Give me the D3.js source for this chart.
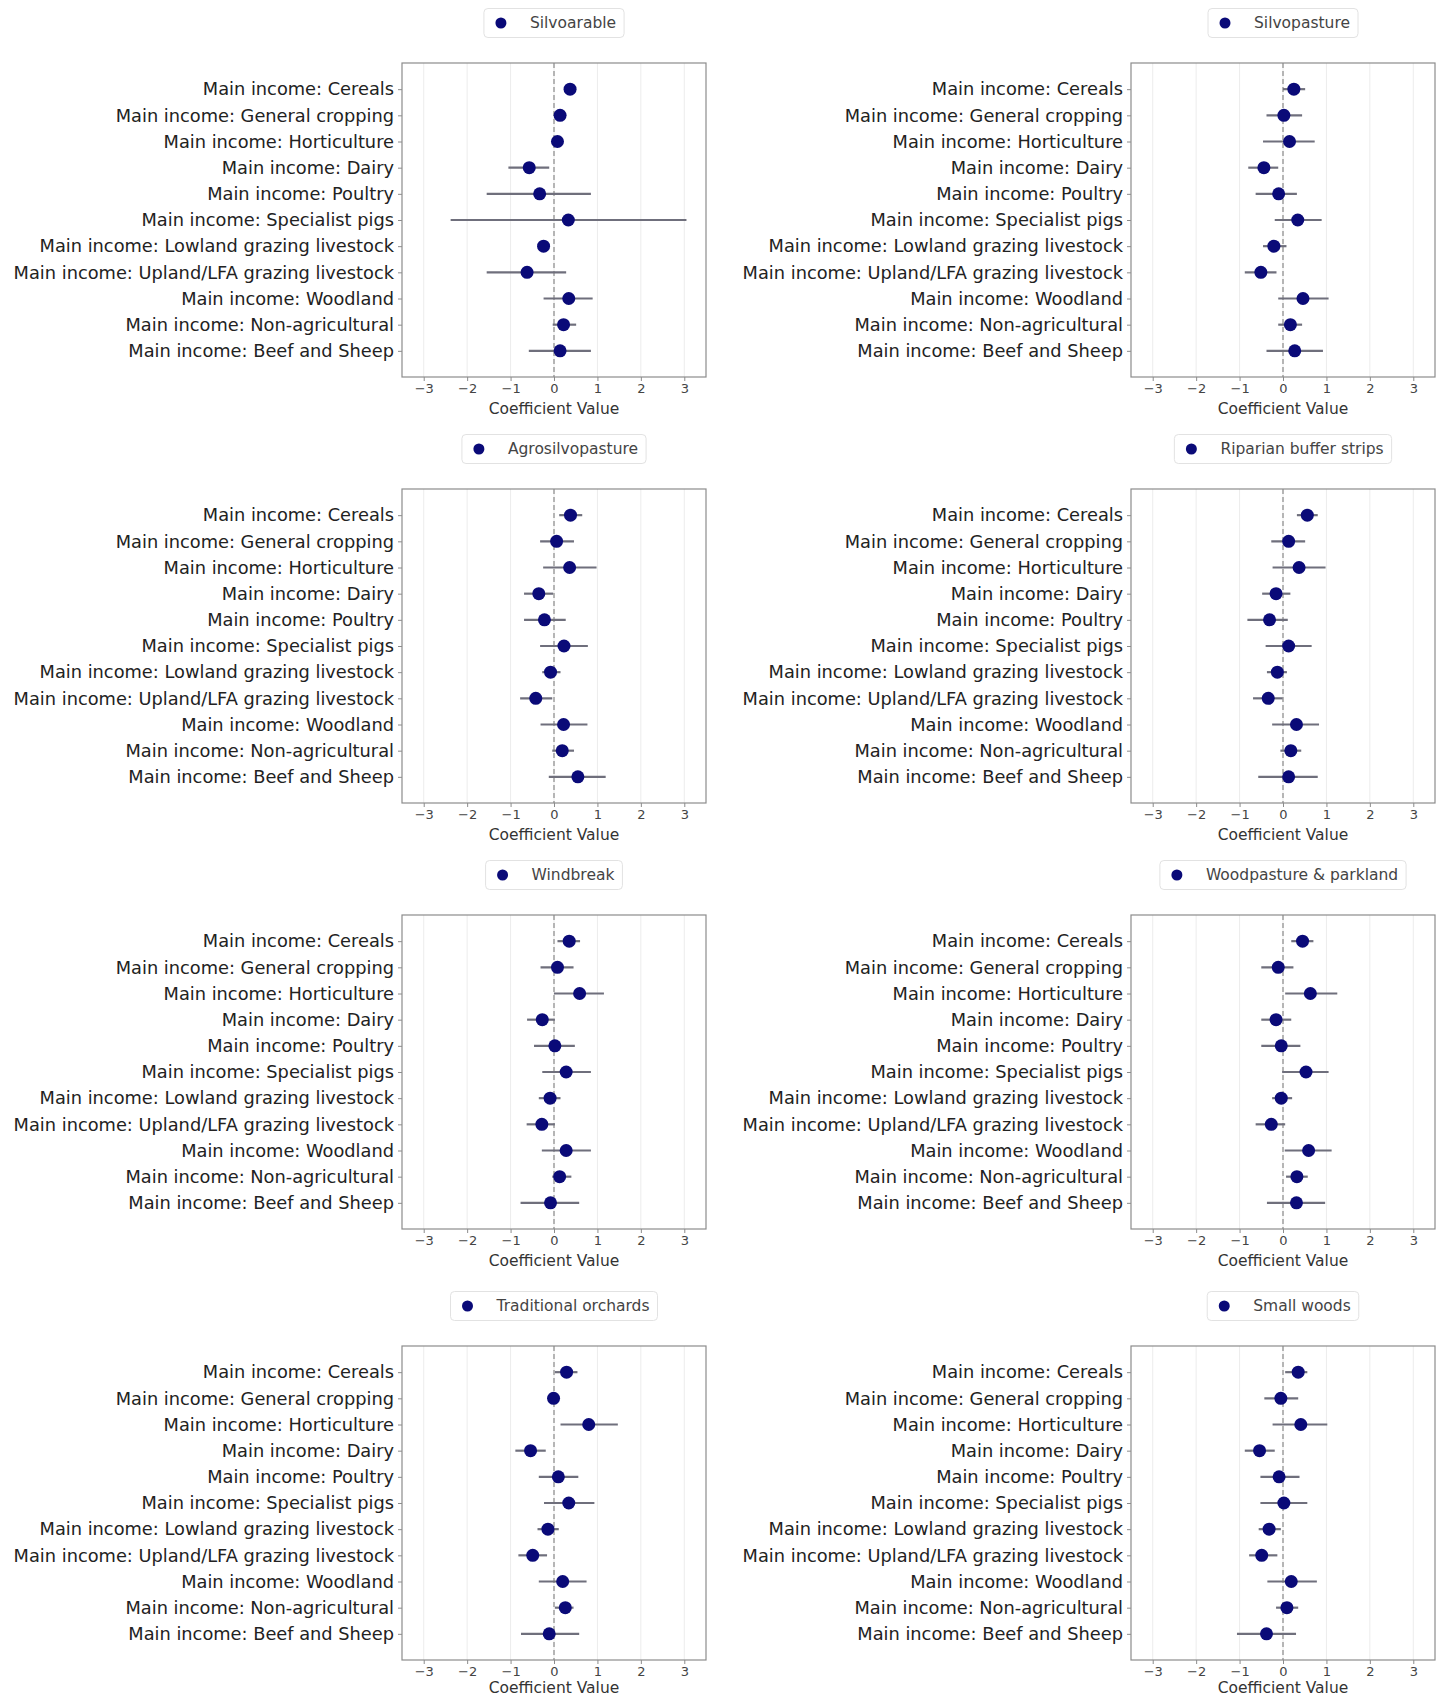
<!DOCTYPE html>
<html>
<head>
<meta charset="utf-8">
<script src="https://cdn.jsdelivr.net/npm/d3@7"></script>
<style>
  body { margin: 0; background: #fff; }
  svg { display: block; font-family: "DejaVu Sans", sans-serif; }
</style>
</head>
<body>
<div id="chart"></div>
<script>
// categories (top to bottom) and agroforestry schemes
const categories = [
  "Main income: Cereals",
  "Main income: General cropping",
  "Main income: Horticulture",
  "Main income: Dairy",
  "Main income: Poultry",
  "Main income: Specialist pigs",
  "Main income: Lowland grazing livestock",
  "Main income: Upland/LFA grazing livestock",
  "Main income: Woodland",
  "Main income: Non-agricultural",
  "Main income: Beef and Sheep"
];

const schemes = [
  "Silvoarable", "Silvopasture",
  "Agrosilvopasture", "Riparian buffer strips",
  "Windbreak", "Woodpasture & parkland",
  "Traditional orchards", "Small woods"
];

// coefficient estimates, one row per scheme (same order as categories)
const coefs = [
  [0.37, 0.14, 0.08, -0.57, -0.33, 0.33, -0.24, -0.62, 0.34, 0.22, 0.14],
  [0.25, 0.02, 0.15, -0.44, -0.10, 0.34, -0.21, -0.51, 0.46, 0.17, 0.27],
  [0.38, 0.06, 0.36, -0.35, -0.22, 0.23, -0.08, -0.42, 0.22, 0.19, 0.55],
  [0.56, 0.13, 0.37, -0.16, -0.31, 0.13, -0.13, -0.34, 0.31, 0.18, 0.13],
  [0.35, 0.08, 0.59, -0.27, 0.02, 0.28, -0.09, -0.28, 0.28, 0.13, -0.08],
  [0.45, -0.11, 0.63, -0.16, -0.04, 0.53, -0.04, -0.27, 0.59, 0.32, 0.31],
  [0.29, -0.01, 0.80, -0.54, 0.10, 0.34, -0.14, -0.49, 0.20, 0.26, -0.11],
  [0.35, -0.05, 0.41, -0.54, -0.09, 0.02, -0.32, -0.49, 0.19, 0.09, -0.38]
];

// lower bounds of the confidence intervals
const lowers = [
  [0.30, 0.08, 0.02, -1.05, -1.55, -2.38, -0.32, -1.55, -0.24, -0.03, -0.58],
  [0.00, -0.38, -0.46, -0.80, -0.63, -0.19, -0.46, -0.88, -0.11, -0.11, -0.38],
  [0.12, -0.32, -0.25, -0.69, -0.69, -0.32, -0.27, -0.78, -0.31, -0.04, -0.12],
  [0.32, -0.27, -0.24, -0.48, -0.82, -0.40, -0.37, -0.69, -0.25, -0.06, -0.57],
  [0.08, -0.31, 0.00, -0.62, -0.46, -0.27, -0.35, -0.63, -0.28, -0.04, -0.77],
  [0.19, -0.50, 0.05, -0.50, -0.50, -0.02, -0.25, -0.63, 0.04, 0.07, -0.37],
  [0.02, -0.14, 0.15, -0.89, -0.35, -0.23, -0.38, -0.82, -0.35, 0.02, -0.76],
  [0.05, -0.43, -0.24, -0.88, -0.52, -0.52, -0.56, -0.78, -0.36, -0.16, -1.06]
];

// upper bounds of the confidence intervals
const uppers = [
  [0.44, 0.20, 0.14, -0.11, 0.85, 3.05, -0.16, 0.28, 0.89, 0.51, 0.85],
  [0.51, 0.44, 0.73, -0.11, 0.32, 0.89, 0.08, -0.15, 1.05, 0.44, 0.92],
  [0.65, 0.46, 0.98, -0.02, 0.27, 0.78, 0.15, -0.04, 0.77, 0.46, 1.19],
  [0.80, 0.51, 0.98, 0.17, 0.11, 0.66, 0.09, -0.01, 0.83, 0.42, 0.80],
  [0.60, 0.45, 1.15, 0.02, 0.48, 0.85, 0.15, 0.02, 0.85, 0.40, 0.58],
  [0.70, 0.24, 1.25, 0.19, 0.40, 1.05, 0.21, 0.05, 1.12, 0.57, 0.97],
  [0.54, 0.11, 1.47, -0.19, 0.56, 0.93, 0.11, -0.16, 0.75, 0.45, 0.58],
  [0.56, 0.35, 1.02, -0.19, 0.38, 0.56, -0.05, -0.13, 0.78, 0.35, 0.30]
];

const xTicks = [-3, -2, -1, 0, 1, 2, 3];

// layout
const width = 1439, height = 1700;
const colLeft = [402, 1131];
const rowTop = [63, 489, 915, 1346];
const panelW = 304, panelH = 314;
const font = "DejaVu Sans";

const svg = d3.select("#chart").append("svg")
    .attr("width", width)
    .attr("height", height);

schemes.forEach((name, k) => {
    let row = Math.floor(k / 2);
    let left = colLeft[k % 2];
    let top = rowTop[row];

    let x = d3.scaleLinear().domain([-3.5, 3.5]).range([0, panelW]);
    let y = d3.scaleLinear().domain([-1, categories.length]).range([0, panelH]);

    let g = svg.append("g").attr("transform", `translate(${left},${top})`);

    // light vertical grid
    g.selectAll("line.grid")
      .data(xTicks)
      .enter()
      .append("line")
      .attr("class", "grid")
      .attr("x1", d => x(d)).attr("x2", d => x(d))
      .attr("y1", 0).attr("y2", panelH)
      .attr("stroke", "#ececec")
      .attr("stroke-width", 1);

    // zero reference
    g.append("line")
      .attr("x1", x(0)).attr("x2", x(0))
      .attr("y1", 0).attr("y2", panelH)
      .attr("stroke", "#8a8a8a")
      .attr("stroke-width", 1.2)
      .attr("stroke-dasharray", "5,3");

    let rows = categories.map((c, i) => ({c: c, i: i, v: coefs[k][i], lo: lowers[k][i], hi: uppers[k][i]}));

    g.selectAll("line.err")
      .data(rows)
      .enter()
      .append("line")
      .attr("class", "err")
      .attr("x1", d => x(d.lo)).attr("x2", d => x(d.hi))
      .attr("y1", d => y(d.i)).attr("y2", d => y(d.i))
      .attr("stroke", "#6f6f7c")
      .attr("stroke-width", 2.2);

    g.selectAll("circle.pt")
      .data(rows)
      .enter()
      .append("circle")
      .attr("class", "pt")
      .attr("cx", d => x(d.v))
      .attr("cy", d => y(d.i))
      .attr("r", 6.5)
      .attr("fill", "#0a0a78");

    // frame
    g.append("rect")
      .attr("width", panelW).attr("height", panelH)
      .attr("fill", "none")
      .attr("stroke", "#8c8c8c")
      .attr("stroke-width", 1.2);

    // x axis
    let xa = g.append("g")
      .attr("transform", `translate(0,${panelH})`)
      .call(d3.axisBottom(x).tickValues(xTicks).tickFormat(d3.format("d")).tickSize(4).tickPadding(3));
    xa.attr("font-family", font);
    xa.select(".domain").remove();
    xa.selectAll("line").attr("stroke", "#8c8c8c");
    xa.selectAll("text").attr("font-size", 13).attr("fill", "#444");

    // last row sits at the page edge, so keep its label inside
    g.append("text")
      .attr("x", panelW / 2)
      .attr("y", panelH + (row === 3 ? 33 : 37))
      .attr("text-anchor", "middle")
      .attr("font-size", 15.5)
      .attr("fill", "#333")
      .text("Coefficient Value");

    // y axis with category labels
    let ya = g.append("g")
      .call(d3.axisLeft(y).tickValues(d3.range(categories.length))
            .tickFormat(i => categories[i]).tickSize(4).tickPadding(4));
    ya.attr("font-family", font);
    ya.select(".domain").remove();
    ya.selectAll("line").attr("stroke", "#8c8c8c");
    ya.selectAll("text").attr("font-size", 17.8).attr("fill", "#222");

    // legend above the panel
    let lg = g.append("g").attr("transform", `translate(${panelW / 2},-40)`);
    let box = lg.append("rect")
      .attr("fill", "#fff")
      .attr("stroke", "#e2e2e2")
      .attr("rx", 4);
    let lt = lg.append("text")
      .attr("font-size", 15.5)
      .attr("fill", "#444")
      .attr("dy", "0.35em")
      .text(name);
    let tw = lt.node().getComputedTextLength();
    let bw = tw + 54;
    box.attr("x", -bw / 2).attr("y", -14.5).attr("width", bw).attr("height", 29);
    lg.append("circle")
      .attr("cx", -bw / 2 + 17)
      .attr("cy", 0)
      .attr("r", 5.5)
      .attr("fill", "#0a0a78");
    lt.attr("x", -bw / 2 + 46);
});
</script>
</body>
</html>
